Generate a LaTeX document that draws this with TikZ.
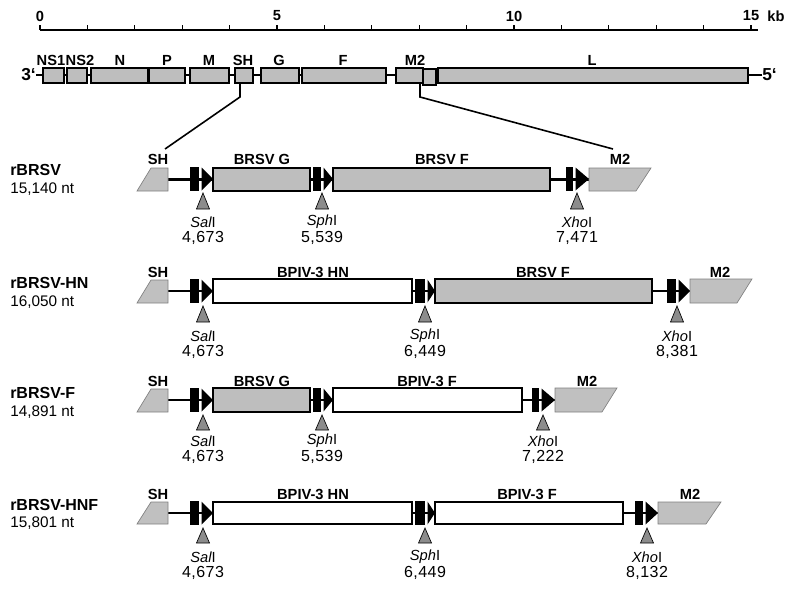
\documentclass[tikz,border=0pt]{standalone}
\usepackage{fontspec}
\setmainfont{Liberation Sans}
\usetikzlibrary{fit,calc}
\definecolor{boxgray}{RGB}{190,190,190}
\definecolor{shgray}{RGB}{192,192,192}
\definecolor{sitegray}{RGB}{140,140,140}
\tikzset{
  genebox/.style={draw, line width=0.8pt, fill=boxgray, inner sep=0pt},
  whitebox/.style={draw, line width=0.8pt, fill=white, inner sep=0pt},
  lbl/.style={font=\bfseries\fontsize{11}{13}\selectfont, inner sep=0pt},
  rowlbl/.style={font=\fontsize{11.5}{13}\selectfont, inner sep=0pt, anchor=west},
  rowname/.style={font=\bfseries\fontsize{12}{14}\selectfont, inner sep=0pt, anchor=west},
  enz/.style={font=\fontsize{11}{13}\selectfont, inner sep=0pt},
  enznum/.style={font=\fontsize{12}{14}\selectfont\addfontfeature{LetterSpace=3}, inner sep=0pt},
  backbone/.style={line width=2pt},
  partial/.style={fill=shgray, draw=gray, line width=0.5pt},
}
\newcommand{\promoter}[5]{%
  \fill (#1,#4) rectangle (#2,#5);
  \fill (#2+2.5,#4+0.5) -- (#3,{(#4+#5)/2}) -- (#2+2.5,#5-0.5) -- cycle;}
\newcommand{\rsite}[7]{%
  \draw[fill=sitegray, line width=0.5pt] (#1-6.5,#3) -- (#1,#2) -- (#1+6.5,#3) -- cycle;
  \node[enz] (#7n) at (#1,#6-1) {#4};
  \node[enznum] (#7p) at (#1,#6+15) {#5};}
\begin{document}
\begin{tikzpicture}[x=0.75pt,y=-0.75pt]
\useasboundingbox (0,0) rectangle (800,589);
% scale bar
\coordinate (s0) at (40,30);
\coordinate (s15) at (758,30);
\draw[line width=1.5pt] (s0) -- (s15);
\foreach \k in {0,...,15} { \draw[line width=1pt] (40+47.4*\k,25) -- (40+47.4*\k,30); }
\node[lbl] (t0) at (40,16) {0};
\node[lbl] (t5) at (277,16) {5};
\node[lbl] (t10) at (514,16) {10};
\node[lbl] (t15) at (751,16) {15};
\node[lbl] (tkb) at (776,16) {kb};
% genome
\node[lbl, font=\bfseries\fontsize{13}{15}\selectfont, anchor=east] (g3) at (36,75) {3‘};
\node[lbl, font=\bfseries\fontsize{13}{15}\selectfont, anchor=west] (g5) at (762,75) {5‘};
\draw[backbone] (g3.east) -- (g5.west);
\node[genebox, fit={(43,68)(64,83)}] (gNS1) {};
\node[genebox, fit={(67,68)(87,83)}] (gNS2) {};
\node[genebox, fit={(91,68)(148,83)}] (gN) {};
\node[genebox, fit={(148,68)(185,83)}] (gP) {};
\draw[line width=1.6pt] (gN.north east) -- (gN.south east);
\node[genebox, fit={(190,68)(229,83)}] (gM) {};
\node[genebox, fit={(235,68)(253,83)}] (gSH) {};
\node[genebox, fit={(261,68)(299,83)}] (gG) {};
\node[genebox, fit={(302,68)(386,83)}] (gF) {};
\node[genebox, fit={(396,68)(423,83)}] (gM2) {};
\node[genebox, fit={(423,69)(436,85)}] (gM2b) {};
\node[genebox, fit={(438,68)(748,83)}] (gL) {};
\node[lbl] (lNS1) at (51,60) {NS1};
\node[lbl] (lNS2) at (80,60) {NS2};
\node[lbl] (lN) at (120,60) {N};
\node[lbl] (lP) at (167,60) {P};
\node[lbl] (lM) at (209,60) {M};
\node[lbl] (lSH) at (243,60) {SH};
\node[lbl] (lG) at (279,60) {G};
\node[lbl] (lF) at (343,60) {F};
\node[lbl] (lM2) at (415,60) {M2};
\node[lbl] (lL) at (592,60) {L};
% zoom lines
\coordinate (zl) at (165,149);
\coordinate (zr) at (613,149);
\draw[line width=1.2pt] (gSH.south -| 240,0) -- (240,97) -- (zl);
\draw[line width=1.2pt] (gM2.south -| 420,0) -- (420,97) -- (zr);

% ---------- row 1: rBRSV ----------
\node[rowname] (r1a) at (10,170) {rBRSV};
\node[rowlbl] (r1b) at (10,189) {15,140 nt};
\coordinate (b1s) at (168,179.5);
\coordinate (b1e) at (589,179.5);
\draw[backbone] (b1s) -- (b1e);
\draw[partial] (137,191) -- (151,168) -- (168,168) -- (168,191) -- cycle;
\promoter{190}{199}{213}{167}{191}
\node[genebox, fit={(213,168)(310,191)}] (r1G) {};
\promoter{313}{321}{333}{167}{191}
\node[genebox, fit={(333,168)(550,191)}] (r1F) {};
\promoter{566}{573}{589}{167}{191}
\draw[partial] (589,168) -- (651,168) -- (636,191) -- (589,191) -- cycle;
\node[lbl] (r1lSH) at (158,159) {SH};
\node[lbl] (r1lG) at (262,159) {BRSV G};
\node[lbl] (r1lF) at (442,159) {BRSV F};
\node[lbl] (r1lM2) at (620,159) {M2};
\rsite{203}{193}{209}{{\itshape Sal}I}{4,673}{223}{r1sal}
\rsite{322}{193}{209}{{\itshape Sph}I}{5,539}{223}{r1sph}
\rsite{577}{193}{209}{{\itshape Xho}I}{7,471}{223}{r1xho}

% ---------- row 2: rBRSV-HN ----------
\node[rowname] (r2a) at (10,283) {rBRSV-HN};
\node[rowlbl] (r2b) at (10,302) {16,050 nt};
\coordinate (b2s) at (168,291);
\coordinate (b2e) at (690,291);
\draw[backbone] (b2s) -- (b2e);
\draw[partial] (137,303) -- (151,280) -- (168,280) -- (168,303) -- cycle;
\promoter{190}{199}{213}{279}{303}
\node[whitebox, fit={(213,279)(412,303)}] (r2HN) {};
\promoter{415}{425}{435}{279}{303}
\node[genebox, fit={(435,279)(652,303)}] (r2F) {};
\promoter{667}{676}{690}{279}{303}
\draw[partial] (690,279) -- (752,279) -- (737,303) -- (690,303) -- cycle;
\node[lbl] (r2lSH) at (158,272) {SH};
\node[lbl] (r2lHN) at (313,272) {BPIV-3 HN};
\node[lbl] (r2lF) at (543,272) {BRSV F};
\node[lbl] (r2lM2) at (720,272) {M2};
\rsite{203}{306}{322}{{\itshape Sal}I}{4,673}{337}{r2sal}
\rsite{425}{306}{322}{{\itshape Sph}I}{6,449}{337}{r2sph}
\rsite{677}{306}{322}{{\itshape Xho}I}{8,381}{337}{r2xho}

% ---------- row 3: rBRSV-F ----------
\node[rowname] (r3a) at (10,393) {rBRSV-F};
\node[rowlbl] (r3b) at (10,412) {14,891 nt};
\coordinate (b3s) at (168,400);
\coordinate (b3e) at (555,400);
\draw[backbone] (b3s) -- (b3e);
\draw[partial] (137,412) -- (151,389) -- (168,389) -- (168,412) -- cycle;
\promoter{190}{199}{213}{388}{412}
\node[genebox, fit={(213,388)(310,412)}] (r3G) {};
\promoter{313}{321}{333}{388}{412}
\node[whitebox, fit={(333,388)(522,412)}] (r3F) {};
\promoter{532}{539}{555}{388}{412}
\draw[partial] (555,388) -- (617,388) -- (602,412) -- (555,412) -- cycle;
\node[lbl] (r3lSH) at (158,381) {SH};
\node[lbl] (r3lG) at (262,381) {BRSV G};
\node[lbl] (r3lF) at (427,381) {BPIV-3 F};
\node[lbl] (r3lM2) at (587,381) {M2};
\rsite{203}{415}{430}{{\itshape Sal}I}{4,673}{442}{r3sal}
\rsite{322}{415}{430}{{\itshape Sph}I}{5,539}{442}{r3sph}
\rsite{543}{415}{430}{{\itshape Xho}I}{7,222}{442}{r3xho}

% ---------- row 4: rBRSV-HNF ----------
\node[rowname] (r4a) at (10,505) {rBRSV-HNF};
\node[rowlbl] (r4b) at (10,523) {15,801 nt};
\coordinate (b4s) at (168,513);
\coordinate (b4e) at (658,513);
\draw[backbone] (b4s) -- (b4e);
\draw[partial] (137,524) -- (151,502) -- (168,502) -- (168,524) -- cycle;
\promoter{190}{199}{213}{501}{525}
\node[whitebox, fit={(213,502)(412,524)}] (r4HN) {};
\promoter{415}{425}{435}{501}{525}
\node[whitebox, fit={(435,502)(623,524)}] (r4F) {};
\promoter{635}{643}{658}{501}{525}
\draw[partial] (658,502) -- (721,502) -- (706,524) -- (658,524) -- cycle;
\node[lbl] (r4lSH) at (158,494) {SH};
\node[lbl] (r4lHN) at (313,494) {BPIV-3 HN};
\node[lbl] (r4lF) at (527,494) {BPIV-3 F};
\node[lbl] (r4lM2) at (690,494) {M2};
\rsite{203}{528}{543}{{\itshape Sal}I}{4,673}{558}{r4sal}
\rsite{425}{528}{543}{{\itshape Sph}I}{6,449}{558}{r4sph}
\rsite{647}{528}{543}{{\itshape Xho}I}{8,132}{558}{r4xho}
\end{tikzpicture}
\end{document}
